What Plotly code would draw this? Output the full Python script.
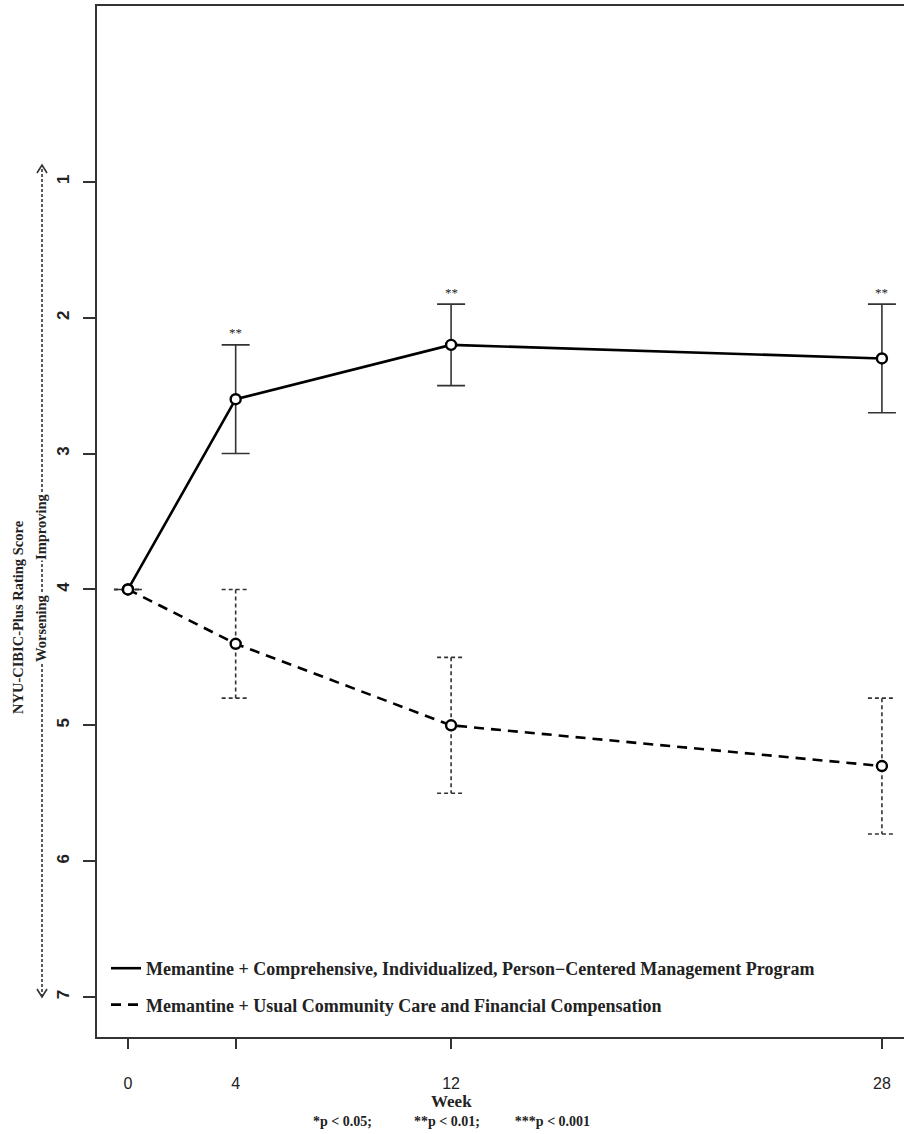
import plotly.graph_objects as go

# ---------------- data ----------------
weeks = [0, 4, 12, 28]
week_ticks = ["0", "4", "12", "28"]
score_ticks = [1, 2, 3, 4, 5, 6, 7]

cp_name = "Memantine + Comprehensive, Individualized, Person\u2212Centered Management Program"
cp_mean = [4.0, 2.6, 2.2, 2.3]
cp_err = [0.0, 0.4, 0.3, 0.4]
cp_sig = ["", "**", "**", "**"]

uc_name = "Memantine + Usual Community Care and Financial Compensation"
uc_mean = [4.0, 4.4, 5.0, 5.3]
uc_err = [0.0, 0.4, 0.5, 0.5]

footnote = ("*p &lt; 0.05;" + "&nbsp;" * 12 + "**p &lt; 0.01;" + "&nbsp;" * 10 + "***p &lt; 0.001")

# ---------------- layout geometry ----------------
W, H = 904, 1134
ML, MR, MT, MB = 97, 0, 6, 97
PW, PH = W - ML - MR, H - MT - MB


def pxx(px):
    return (px - ML) / PW


def pyy(py):
    return (H - MB - py) / PH


SERIF = "Liberation Serif, Times New Roman, serif"
SANS = "Liberation Sans, Arial, sans-serif"
INK = "#222222"
CAP_HALF = 0.52  # cap half-width in weeks (~14 px)

fig = go.Figure()

# dashed error bars for the usual-care series (built from the data)
ex, ey = [], []
for w, m, e in zip(weeks, uc_mean, uc_err):
    lo, hi = m - e, m + e
    ex += [w, w, None, w - CAP_HALF, w + CAP_HALF, None, w - CAP_HALF, w + CAP_HALF, None]
    ey += [lo, hi, None, hi, hi, None, lo, lo, None]
fig.add_trace(go.Scatter(x=ex, y=ey, mode="lines", showlegend=False, hoverinfo="skip",
                         line=dict(color="#333333", width=1.6, dash="4px,3px")))

# lines (legend entries)
fig.add_trace(go.Scatter(
    x=weeks, y=cp_mean, mode="lines", name=cp_name, legendgroup="a",
    line=dict(color="black", width=2.6),
))
fig.add_trace(go.Scatter(
    x=weeks, y=uc_mean, mode="lines", name=uc_name, legendgroup="b",
    line=dict(color="black", width=2.6, dash="10px,7px"),
))

# points (with solid error bars for the program series)
fig.add_trace(go.Scatter(
    x=weeks, y=cp_mean, mode="markers", showlegend=False, legendgroup="a",
    marker=dict(symbol="circle", size=10, color="white", line=dict(color="black", width=2.4)),
    error_y=dict(type="data", array=cp_err, visible=True, color="#333333", thickness=1.6, width=14),
))
fig.add_trace(go.Scatter(
    x=weeks, y=uc_mean, mode="markers", showlegend=False, legendgroup="b",
    marker=dict(symbol="circle", size=10, color="white", line=dict(color="black", width=2.4)),
))

# significance stars
for w, m, e, s in zip(weeks, cp_mean, cp_err, cp_sig):
    if s:
        fig.add_annotation(x=w, y=m - e, text=s, showarrow=False, yshift=12,
                           font=dict(family=SERIF, size=13, color=INK))

# x-axis title and footnote (positioned at week 12)
fig.add_annotation(x=12, xref="x", y=pyy(1101), yref="paper", yanchor="middle", xanchor="center",
                   text="<b>Week</b>", showarrow=False, font=dict(family=SERIF, size=17, color=INK))
fig.add_annotation(x=12, xref="x", y=pyy(1121), yref="paper", yanchor="middle", xanchor="center",
                   text="<b>" + footnote + "</b>", showarrow=False,
                   font=dict(family=SERIF, size=14, color=INK))

# y-axis title (two lines, rotated)
fig.add_annotation(x=pxx(18), y=pyy(617), xref="paper", yref="paper", xanchor="center", yanchor="middle",
                   text="<b>NYU-CIBIC-Plus Rating Score</b>",
                   textangle=-90, showarrow=False, font=dict(family=SERIF, size=14.5, color=INK))
# dashed arrow line
fig.add_shape(type="line", xref="paper", yref="paper", x0=pxx(42), x1=pxx(42), y0=pyy(997), y1=pyy(165),
              line=dict(color="#333333", width=1.6, dash="3px,2px"))
# arrow heads
fig.add_shape(type="path", xref="paper", yref="paper",
              path=f"M {pxx(37)} {pyy(173)} L {pxx(42)} {pyy(165)} L {pxx(47)} {pyy(173)}",
              line=dict(color="#333333", width=1.6))
fig.add_shape(type="path", xref="paper", yref="paper",
              path=f"M {pxx(37)} {pyy(989)} L {pxx(42)} {pyy(997)} L {pxx(47)} {pyy(989)}",
              line=dict(color="#333333", width=1.6))
for txt, yc in [("Worsening", 628), ("Improving", 526)]:
    fig.add_annotation(x=pxx(41), y=pyy(yc), xref="paper", yref="paper", xanchor="center", yanchor="middle",
                       text="<b>" + txt + "</b>",
                       textangle=-90, showarrow=False, bgcolor="white", borderpad=0,
                       font=dict(family=SERIF, size=14.5, color=INK))

fig.update_layout(
    width=W, height=H,
    margin=dict(l=ML, r=MR, t=MT, b=MB),
    paper_bgcolor="white", plot_bgcolor="white",
    showlegend=True,
    legend=dict(x=pxx(106), y=pyy(950), xanchor="left", yanchor="top", bgcolor="rgba(0,0,0,0)",
                font=dict(family=SERIF, size=18, color=INK, weight="bold"), itemwidth=30,
                tracegroupgap=10, traceorder="grouped"),
    xaxis=dict(range=[-1.15, 28.82], tickvals=weeks, ticktext=week_ticks, showgrid=False, zeroline=False,
               showline=True, linecolor="#333333", linewidth=2, mirror=True,
               ticks="outside", ticklen=10, tickwidth=1.5, tickcolor="#333333",
               tickfont=dict(family=SANS, size=16, color=INK), ticklabelstandoff=21),
    yaxis=dict(range=[7.294, -0.294], tickvals=score_ticks, showgrid=False, zeroline=False,
               showline=True, linecolor="#333333", linewidth=2, mirror=False,
               ticks="outside", ticklen=12, tickwidth=1.5, tickcolor="#333333", tickangle=-90,
               tickfont=dict(family=SANS, size=17, color=INK, weight="bold"), ticklabelstandoff=7),
)

fig.write_html("out.html", config={"displayModeBar": False},
               post_script="document.body.style.margin='0';document.body.style.overflow='hidden';")
